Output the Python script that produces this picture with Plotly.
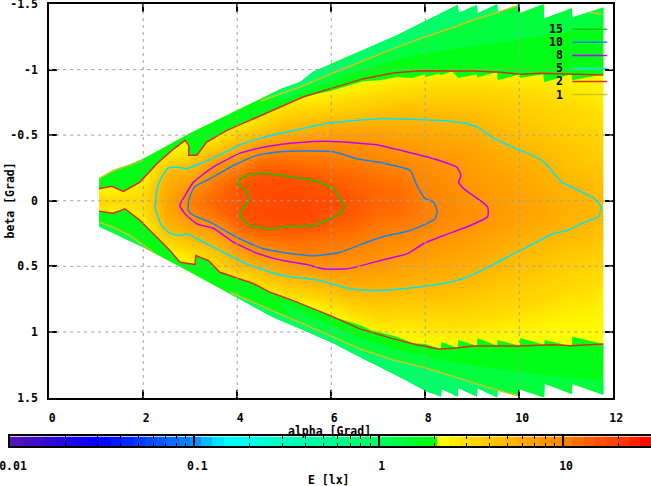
"""Illuminance map E(alpha, beta) with iso-lux contours, gnuplot look."""

import numpy as np
import plotly.graph_objects as go

FONT = dict(family="DejaVu Sans Mono", size=11.5, color="black", weight="bold")

# grid of the map, one list of E [lx] per alpha column
alpha_cols = [1.06, 1.5, 2, 2.5, 3, 3.5, 4, 4.5, 5, 5.5, 6, 6.5, 7, 7.5, 8, 8.5, 9, 9.5, 10, 10.5, 11, 11.5, 11.79]
beta_rows = [-1.1, -1, -0.9, -0.8, -0.7, -0.6, -0.5, -0.4, -0.3, -0.2, -0.1, 0, 0.1, 0.2, 0.3, 0.4, 0.5, 0.6, 0.7, 0.8, 0.9, 1, 1.1, 1.2]
E_cols = [
    [2.2, 2.2, 2.2, 2.2, 2.2, 2.2, 2.2, 2.2, 2.2, 2.2, 2.2, 3.4, 2.3, 2.2, 2.2, 2.2, 2.2, 2.2, 2.2, 2.2, 2.2, 2.2, 2.2, 2.2],
    [2.2, 2.2, 2.2, 2.2, 2.2, 2.2, 2.2, 2.2, 2.2, 2.2, 2.3, 3.2, 2.3, 2.2, 2.2, 2.2, 2.2, 2.2, 2.2, 2.2, 2.2, 2.2, 2.2, 2.2],
    [2.2, 2.2, 2.2, 2.2, 2.2, 2.2, 2.2, 2.2, 2.2, 2.2, 2.9, 3.1, 2.9, 2.2, 2.2, 2.2, 2.2, 2.2, 2.2, 2.2, 2.2, 2.2, 2.2, 2.2],
    [2.2, 2.2, 2.2, 2.2, 2.2, 2.2, 2.2, 2.2, 3.2, 5.0, 5.8, 6.3, 5.8, 5.0, 3.2, 2.2, 2.2, 2.2, 2.2, 2.2, 2.2, 2.2, 2.2, 2.2],
    [2.2, 2.2, 2.2, 2.2, 2.2, 2.2, 2.2, 2.4, 4.0, 6.0, 8.0, 10.5, 9.0, 6.5, 4.6, 3.0, 2.2, 2.2, 2.2, 2.2, 2.2, 2.2, 2.2, 2.2],
    [2.2, 2.2, 2.2, 2.2, 2.2, 2.2, 2.3, 3.8, 6.8, 9.3, 11.5, 13, 11.5, 8.3, 5.7, 4.0, 3.0, 2.2, 2.2, 2.2, 2.2, 2.2, 2.2, 2.2],
    [2.2, 2.2, 2.2, 2.2, 2.2, 2.2, 3.5, 5.5, 9.0, 12, 14.5, 14.5, 15, 12.5, 9.0, 6.5, 4.5, 2.6, 2.2, 2.2, 2.2, 2.2, 2.2, 2.2],
    [2.2, 2.2, 2.2, 2.2, 2.2, 3.2, 4.6, 8.0, 12.2, 15, 16.5, 16.5, 17, 15, 11, 8.4, 5.4, 3.6, 2.2, 2.2, 2.2, 2.2, 2.2, 2.2],
    [2.2, 2.2, 2.2, 2.3, 3.0, 4.1, 5.6, 9.2, 12.3, 15, 17, 17.8, 17.8, 15, 12.2, 9.3, 6.8, 4.6, 3.0, 2.2, 2.2, 2.2, 2.2, 2.2],
    [2.2, 2.2, 2.2, 2.4, 3.1, 4.4, 6.2, 9.3, 11.5, 14, 16, 17.5, 17.5, 14.8, 12, 10.3, 7.8, 5.0, 3.5, 2.2, 2.2, 2.2, 2.2, 2.2],
    [2.2, 2.2, 2.2, 2.6, 3.4, 4.9, 6.8, 9.4, 11.3, 13, 14.8, 16.5, 15.4, 13.5, 11.5, 10, 8.3, 5.6, 4.1, 2.9, 2.2, 2.2, 2.2, 2.2],
    [2.2, 2.2, 2.2, 2.9, 3.7, 5.0, 7.0, 8.6, 10.5, 12.2, 13.5, 14.5, 14, 12.5, 10.8, 9.4, 8.1, 6.3, 4.8, 3.5, 2.6, 2.2, 2.2, 2.2],
    [2.2, 2.2, 2.5, 3.1, 4.1, 5.2, 6.8, 8.3, 9.9, 11.3, 12.5, 13, 12.5, 11, 9.7, 8.5, 7.5, 6.0, 4.8, 3.8, 3.0, 2.4, 2.2, 2.2],
    [2.2, 2.2, 2.7, 3.3, 4.3, 5.2, 6.3, 7.7, 9.0, 10.5, 11.7, 12.2, 11.7, 10.4, 9.0, 7.8, 6.7, 5.5, 4.6, 3.7, 3.0, 2.5, 2.2, 2.2],
    [2.2, 2.2, 2.8, 3.4, 4.4, 5.1, 6.0, 7.2, 8.2, 9.0, 9.8, 10.1, 10.5, 9.8, 8.2, 7.2, 6.2, 5.3, 4.5, 3.6, 3.0, 2.6, 2.2, 2.2],
    [2.2, 2.2, 2.9, 3.5, 4.3, 5.0, 5.8, 6.8, 7.8, 8.4, 8.8, 9.2, 9.3, 8.4, 7.5, 6.7, 5.9, 5.1, 4.4, 3.7, 3.1, 2.7, 2.3, 2.2],
    [2.2, 2.2, 2.9, 3.5, 4.2, 4.9, 5.5, 6.3, 6.8, 7.2, 7.7, 8.0, 8.4, 8.0, 7.0, 6.2, 5.5, 4.8, 4.1, 3.5, 3.0, 2.6, 2.25, 2.2],
    [2.2, 2.2, 2.8, 3.4, 3.9, 4.4, 4.9, 5.5, 6.1, 6.7, 7.0, 7.3, 7.5, 7.0, 6.2, 5.5, 4.9, 4.3, 3.8, 3.3, 2.9, 2.5, 2.2, 2.2],
    [2.2, 2.2, 2.7, 3.2, 3.6, 4.0, 4.4, 4.9, 5.5, 6.0, 6.4, 6.6, 6.7, 6.2, 5.5, 4.9, 4.4, 3.9, 3.5, 3.1, 2.7, 2.4, 2.2, 2.2],
    [2.2, 2.2, 2.6, 3.0, 3.4, 3.7, 4.1, 4.5, 5.0, 5.4, 5.8, 6.1, 6.1, 5.6, 5.0, 4.4, 4.0, 3.6, 3.3, 2.9, 2.6, 2.3, 2.2, 2.2],
    [2.2, 2.2, 2.5, 2.8, 3.1, 3.4, 3.7, 4.0, 4.3, 4.7, 5.1, 5.4, 5.4, 5.1, 4.6, 4.1, 3.7, 3.3, 3.0, 2.7, 2.4, 2.25, 2.2, 2.2],
    [2.2, 2.2, 2.4, 2.7, 2.9, 3.1, 3.4, 3.7, 4.0, 4.4, 4.8, 5.1, 5.2, 4.8, 4.3, 3.8, 3.4, 3.1, 2.8, 2.6, 2.4, 2.25, 2.2, 2.2],
    [2.2, 2.2, 2.3, 2.5, 2.7, 2.9, 3.1, 3.4, 3.7, 4.1, 4.4, 4.7, 4.7, 4.4, 4.0, 3.6, 3.2, 2.9, 2.6, 2.4, 2.3, 2.2, 2.2, 2.2],
]

# outer sawtooth edge of the map
top_edge_a = [1.06, 2.0, 3.0, 3.63, 4.42, 4.91, 5.34, 5.61, 6.01, 6.76, 7.40, 7.96, 8.69, 8.71, 9.10, 9.11, 9.53, 9.54, 10.01, 10.02, 10.52, 10.53, 11.12, 11.13, 11.79]
top_edge_b = [-0.175, -0.321, -0.516, -0.626, -0.766, -0.85, -0.905, -0.982, -1.046, -1.16, -1.262, -1.363, -1.493, -1.432, -1.493, -1.427, -1.498, -1.44, -1.493, -1.432, -1.498, -1.389, -1.468, -1.397, -1.473]
bot_edge_a = [1.06, 2.0, 3.0, 3.85, 4.76, 5.34, 6.0, 6.83, 7.54, 8.0, 8.33, 8.35, 8.69, 8.70, 9.10, 9.11, 9.53, 9.54, 10.01, 10.02, 10.53, 10.54, 11.12, 11.13, 11.79]
bot_edge_b = [0.196, 0.354, 0.545, 0.71, 0.889, 0.976, 1.079, 1.232, 1.359, 1.448, 1.492, 1.435, 1.492, 1.427, 1.492, 1.427, 1.499, 1.44, 1.494, 1.438, 1.499, 1.395, 1.473, 1.397, 1.479]

# green / yellow border right of the smooth part of the 2 lx line
top_yellow_a = [5.98, 6.68, 7.04, 7.40, 7.72, 8.0, 8.01, 8.28, 8.35, 8.57, 8.70, 9.10, 9.11, 9.53, 9.54, 10.01, 10.02, 10.51, 10.53, 11.11, 11.13, 11.79]
top_yellow_b = [-0.837, -0.911, -0.918, -0.943, -0.936, -0.964, -0.943, -0.969, -0.956, -0.987, -0.936, -0.964, -0.939, -0.982, -0.918, -0.964, -0.936, -0.964, -0.903, -0.964, -0.918, -0.964]
bot_yellow_a = [6.65, 6.83, 7.40, 7.74, 8.0, 8.33, 8.35, 8.69, 8.70, 9.10, 9.11, 9.53, 9.54, 10.01, 10.02, 10.53, 10.54, 11.12, 11.13, 11.79]
bot_yellow_b = [0.952, 0.985, 1.036, 1.087, 1.092, 1.13, 1.074, 1.125, 1.061, 1.105, 1.046, 1.105, 1.061, 1.105, 1.046, 1.097, 1.061, 1.11, 1.036, 1.092]

# about 1.4 lx, where the green starts to turn bluish
mid_top_a = [4.91, 5.98, 6.69, 7.32, 7.96, 8.67, 9.52, 10.01, 10.5, 11.12, 11.79]
mid_top_b = [-0.76, -0.91, -1.0, -1.07, -1.12, -1.16, -1.2, -1.23, -1.26, -1.29, -1.32]
mid_bot_a = [4.91, 5.98, 6.61, 7.32, 7.96, 8.71, 9.52, 10.01, 10.5, 11.12, 11.79]
mid_bot_b = [0.77, 0.95, 1.05, 1.13, 1.18, 1.24, 1.28, 1.3, 1.33, 1.35, 1.38]

# contours
c1_top_a = [4.49, 5.34, 5.98, 6.69, 7.32, 7.96, 8.32, 8.67, 9.10, 9.52, 9.985]
c1_top_b = [-0.76, -0.867, -0.964, -1.071, -1.16, -1.244, -1.287, -1.33, -1.389, -1.432, -1.491]
c1_topleft_a = [1.06, 1.36, 2.0]
c1_topleft_b = [-0.168, -0.231, -0.308]
c1_topright_a = [11.51, 11.76]
c1_topright_b = [-1.435, -1.424]
c1_bot_a = [3.85, 5.34, 5.98, 6.61, 7.32, 7.96, 8.71, 9.52, 10.01]
c1_bot_b = [0.698, 0.927, 1.028, 1.13, 1.214, 1.27, 1.351, 1.443, 1.489]
c1_botleft_a = [1.06, 1.36, 1.72, 2.21]
c1_botleft_b = [0.163, 0.202, 0.265, 0.392]

c2_top_a = [1.06, 1.33, 1.58, 1.93, 2.29, 2.61, 2.89, 2.97, 2.97, 3.14, 3.35, 3.78, 4.27, 4.91, 5.40, 5.98, 6.69, 7.32, 7.89, 8.74, 9.02, 9.6, 10.02, 10.44, 11.51, 11.79]
c2_top_b = [-0.092, -0.111, -0.071, -0.142, -0.282, -0.384, -0.46, -0.422, -0.346, -0.346, -0.447, -0.537, -0.613, -0.714, -0.791, -0.855, -0.931, -0.974, -0.992, -0.989, -0.989, -0.979, -0.964, -0.972, -0.966, -0.959]
c2_bot_a = [1.06, 1.36, 1.61, 1.93, 2.29, 2.57, 2.78, 3.10, 3.12, 3.39, 3.63, 4.34, 4.70, 5.19, 5.98, 6.61, 7.32, 7.82, 8.28, 8.6, 9.03, 10.02, 10.73, 11.09, 11.51, 11.79]
c2_bot_b = [0.079, 0.095, 0.061, 0.15, 0.278, 0.379, 0.469, 0.486, 0.418, 0.456, 0.545, 0.631, 0.698, 0.761, 0.876, 0.977, 1.053, 1.097, 1.13, 1.125, 1.107, 1.107, 1.097, 1.105, 1.097, 1.092]

c5_a = [2.265, 2.293, 2.393, 2.527, 2.712, 2.925, 3.208, 3.698, 4.124, 4.912, 5.976, 7.04, 7.68, 8.46, 8.957, 9.17, 9.42, 9.70, 10.02, 10.30, 10.55, 10.72, 10.91, 11.23, 11.58, 11.74, 11.69, 11.36, 11.02, 10.72, 10.23, 9.74, 9.38, 9.02, 8.67, 8.38, 7.82, 6.97, 6.40, 5.76, 4.91, 4.20, 3.70, 3.21, 2.925, 2.78, 2.57, 2.39, 2.25, 2.265]
c5_b = [0.011, -0.094, -0.18, -0.249, -0.256, -0.244, -0.282, -0.361, -0.437, -0.514, -0.592, -0.626, -0.621, -0.608, -0.582, -0.55, -0.485, -0.435, -0.384, -0.346, -0.287, -0.218, -0.142, -0.084, -0.02, 0.044, 0.12, 0.168, 0.227, 0.252, 0.341, 0.431, 0.499, 0.563, 0.608, 0.631, 0.66, 0.685, 0.672, 0.608, 0.566, 0.481, 0.392, 0.303, 0.252, 0.265, 0.247, 0.189, 0.049, 0.011]
c8_a = [2.78, 2.89, 3.07, 3.49, 4.06, 4.63, 5.34, 5.91, 6.54, 7.04, 7.54, 8.18, 8.67, 8.76, 8.71, 8.82, 9.17, 9.33, 9.33, 8.96, 8.39, 7.96, 7.61, 7.11, 6.33, 5.83, 5.48, 4.98, 4.42, 3.92, 3.49, 3.14, 2.89, 2.78]
c8_b = [0.036, -0.04, -0.142, -0.256, -0.363, -0.414, -0.445, -0.453, -0.44, -0.422, -0.379, -0.32, -0.256, -0.193, -0.142, -0.092, -0.002, 0.049, 0.12, 0.189, 0.265, 0.328, 0.405, 0.45, 0.519, 0.519, 0.486, 0.456, 0.40, 0.316, 0.21, 0.176, 0.10, 0.036]
c10_a = [2.96, 3.0, 3.10, 3.42, 3.92, 4.42, 4.91, 6.05, 6.54, 7.11, 7.68, 7.82, 8.0, 8.18, 8.25, 8.21, 7.68, 7.11, 6.76, 6.19, 5.69, 5.34, 4.56, 3.99, 3.42, 3.07, 2.96, 2.96]
c10_b = [0.023, -0.04, -0.109, -0.168, -0.269, -0.346, -0.374, -0.374, -0.32, -0.287, -0.231, -0.117, -0.015, 0.011, 0.074, 0.137, 0.227, 0.273, 0.316, 0.392, 0.418, 0.412, 0.366, 0.278, 0.163, 0.112, 0.074, 0.023]
c15_a = [4.02, 4.02, 4.27, 4.63, 5.05, 5.62, 6.05, 6.19, 6.28, 6.22, 6.05, 5.62, 5.05, 4.70, 4.27, 4.06, 4.13, 4.24, 4.19, 4.02]
c15_b = [-0.124, -0.155, -0.201, -0.206, -0.188, -0.155, -0.092, -0.015, 0.036, 0.087, 0.125, 0.189, 0.196, 0.214, 0.189, 0.112, 0.053, -0.002, -0.079, -0.124]

legend_labels = ["15", "10", "8", "5", "2", "1"]
legend_colors = ["#14c014", "#1a80f0", "#c000ff", "#00e5f5", "#d83000", "#c8c820"]
legend_beta = [-1.307, -1.208, -1.108, -1.009, -0.91, -0.81]

x_ticks = [0, 2, 4, 6, 8, 10, 12]
y_ticks = [-1.5, -1, -0.5, 0, 0.5, 1, 1.5]
y_ticktext = ["-1.5", "-1", "-0.5", "0", "0.5", "1", "1.5"]
bar_ticktext = ["0.01", "0.1", "1", "10"]
bar_major = [-2, -1, 0, 1]
bar_minor = [float(d + np.log10(m)) for d in (-2, -1, 0, 1) for m in range(2, 10) if d + np.log10(m) < 1.477]

# palette on log10(E), the jump green -> yellow sits just above 2 lx
PALETTE = [
    [0, "#5a14b4"], [0.141, "#0000ff"], [0.2876, "#0a8cff"], [0.3365, "#00ffff"],
    [0.5752, "#00ff60"], [0.6718, "#00ff00"], [0.6721, "#ffff00"], [0.7133, "#ffdc00"], [0.7737, "#ffb800"],
    [0.8628, "#ff8400"], [0.9134, "#ff5400"], [0.9491, "#ff4000"], [1, "#ff0000"],
]
LOG_MIN, LOG_MAX = -2, 1.477


def poly(xs, ys, color):
    return go.Scatter(x=xs, y=ys, mode="lines", fill="toself", fillcolor=color, line=dict(width=0),
                      hoverinfo="skip", showlegend=False)


def contour(xs, ys, color, smooth=False):
    line = dict(color=color, width=1.5)
    if smooth:
        line.update(shape="spline", smoothing=0.5)
    return go.Scatter(x=xs, y=ys, mode="lines", line=line, hoverinfo="skip", showlegend=False)


fig = go.Figure()

# map body
fig.add_trace(go.Heatmap(x=alpha_cols, y=beta_rows, z=np.log10(np.array(E_cols)).T, coloraxis="coloraxis",
                         zsmooth="best", hoverinfo="skip"))

# white outside the wedge, the heatmap reaches half a cell past its first and last column
top_mask = [(a, b) for a, b in zip(top_edge_a, top_edge_b) if a < 8]
bot_mask = [(a, b) for a, b in zip(bot_edge_a, bot_edge_b) if a < 8]
fig.add_trace(poly([p[0] for p in top_mask] + [top_mask[-1][0], 0.5, 0.5], [p[1] for p in top_mask] + [-1.4, -1.4, -0.175], "white"))
fig.add_trace(poly([p[0] for p in bot_mask] + [bot_mask[-1][0], 0.5, 0.5], [p[1] for p in bot_mask] + [1.4, 1.4, 0.196], "white"))
fig.add_trace(poly([0.5, 1.06, 1.06, 0.5], [-0.3, -0.3, 0.3, 0.3], "white"))
fig.add_trace(poly([11.79, 12, 12, 11.79], [-1.3, -1.3, 1.35, 1.35], "white"))

# green bands between the yellow border and the edge
top_in = [(a, b) for a, b in zip(c2_top_a, c2_top_b) if a < 5.9] + list(zip(top_yellow_a, top_yellow_b))
bot_in = [(a, b) for a, b in zip(c2_bot_a, c2_bot_b) if a < 6.6] + list(zip(bot_yellow_a, bot_yellow_b))
fig.add_trace(poly(top_edge_a + [p[0] for p in top_in[::-1]], top_edge_b + [p[1] for p in top_in[::-1]], "#00ff14"))
fig.add_trace(poly(bot_edge_a + [p[0] for p in bot_in[::-1]], bot_edge_b + [p[1] for p in bot_in[::-1]], "#00ff14"))

# bluer steps of the green towards the edge
for ca, cb, edge_a, edge_b, color in [
    (mid_top_a, mid_top_b, top_edge_a, top_edge_b, "#00ff3c"),
    (mid_bot_a, mid_bot_b, bot_edge_a, bot_edge_b, "#00ff3c"),
    (c1_top_a, c1_top_b, top_edge_a, top_edge_b, "#00ff68"),
    (c1_bot_a, c1_bot_b, bot_edge_a, bot_edge_b, "#00ff68"),
    (c1_topleft_a, c1_topleft_b, top_edge_a, top_edge_b, "#00ff48"),
    (c1_botleft_a, c1_botleft_b, bot_edge_a, bot_edge_b, "#00ff48"),
]:
    back = [(a, b) for a, b in zip(edge_a, edge_b) if ca[0] <= a <= ca[-1]][::-1]
    fig.add_trace(poly(ca + [p[0] for p in back], cb + [p[1] for p in back], color))

# contour lines, colours as in the key
for xs, ys in [(c1_top_a, c1_top_b), (c1_bot_a, c1_bot_b), (c1_topleft_a, c1_topleft_b),
               (c1_botleft_a, c1_botleft_b), (c1_topright_a, c1_topright_b)]:
    fig.add_trace(contour(xs, ys, legend_colors[5]))
fig.add_trace(contour(c2_top_a, c2_top_b, legend_colors[4]))
fig.add_trace(contour(c2_bot_a, c2_bot_b, legend_colors[4]))
fig.add_trace(contour(c5_a, c5_b, legend_colors[3], smooth=True))
fig.add_trace(contour(c8_a, c8_b, legend_colors[2], smooth=True))
fig.add_trace(contour(c10_a, c10_b, legend_colors[1], smooth=True))
fig.add_trace(contour(c15_a, c15_b, legend_colors[0], smooth=True))

# key
for label, color, b in zip(legend_labels, legend_colors, legend_beta):
    fig.add_trace(contour([11.13, 11.87], [b, b], color))
    fig.add_annotation(x=10.97, y=b, text=label, showarrow=False, xanchor="right", yanchor="middle", font=FONT)

# colour bar
edges = np.linspace(LOG_MIN, LOG_MAX, 58)
fig.add_trace(go.Heatmap(x=edges, y=[0, 1], z=[(edges[:-1] + edges[1:]) / 2], coloraxis="coloraxis",
                         xaxis="x2", yaxis="y2", hoverinfo="skip"))

# grid has to sit over the map
GRID = dict(color="#a0a0a0", width=1, dash="3px,4px")
for v in x_ticks[1:-1]:
    fig.add_shape(type="line", x0=v, x1=v, y0=-1.5, y1=1.5, xref="x", yref="y", line=GRID, layer="above")
for v in y_ticks[1:-1]:
    fig.add_shape(type="line", x0=0, x1=12, y0=v, y1=v, xref="x", yref="y", line=GRID, layer="above")

AXIS = dict(showline=True, linecolor="black", linewidth=2, mirror="ticks", ticks="inside", tickcolor="black",
            tickwidth=2, ticklen=8, showgrid=False, zeroline=False, tickfont=FONT, layer="above traces",
            ticklabeloverflow="allow")

fig.update_layout(
    width=651, height=486,
    margin=dict(l=10, r=0, t=4, b=40, autoexpand=False),
    paper_bgcolor="white", plot_bgcolor="white", showlegend=False,
    coloraxis=dict(colorscale=PALETTE, cmin=LOG_MIN, cmax=LOG_MAX, showscale=False),
    xaxis=dict(AXIS, domain=[0.0612, 0.9411], range=[0, 12], tickvals=x_ticks, ticktext=[str(v) for v in x_ticks],
               anchor="y", ticklabelstandoff=9, ticklabelshift=3),
    yaxis=dict(AXIS, domain=[0.1097, 1], range=[1.5, -1.5], tickvals=y_ticks, ticktext=y_ticktext,
               anchor="x", ticklabelstandoff=7),
    xaxis2=dict(AXIS, domain=[0, 1], range=[LOG_MIN, LOG_MAX], tickvals=bar_major, ticktext=bar_ticktext, anchor="y2",
                ticklen=9, ticklabelstandoff=8, ticklabelshift=3,
                minor=dict(tickvals=bar_minor, ticks="inside", ticklen=3, tickwidth=1, tickcolor="black")),
    yaxis2=dict(domain=[0, 0.0215], range=[0, 1], anchor="x2", showline=True, linecolor="black", linewidth=2,
                mirror=True, showticklabels=False, ticks="", showgrid=False, zeroline=False),
    annotations=list(fig.layout.annotations) + [
        dict(text="beta [Grad]", xref="paper", yref="paper", x=-0.0008, y=0.5566, xanchor="center", yanchor="middle",
             textangle=-90, showarrow=False, font=FONT),
        dict(text="alpha [Grad]", xref="paper", yref="paper", x=0.4977, y=0.034, xanchor="center", yanchor="middle",
             showarrow=False, font=FONT),
        dict(text="E [lx]", xref="paper", yref="paper", x=0.4977, y=-0.077, xanchor="center", yanchor="middle",
             showarrow=False, font=FONT),
    ],
)

fig.write_html("out.html", config=dict(displayModeBar=False),
               post_script="document.body.style.margin='0';document.body.style.overflow='hidden';")
